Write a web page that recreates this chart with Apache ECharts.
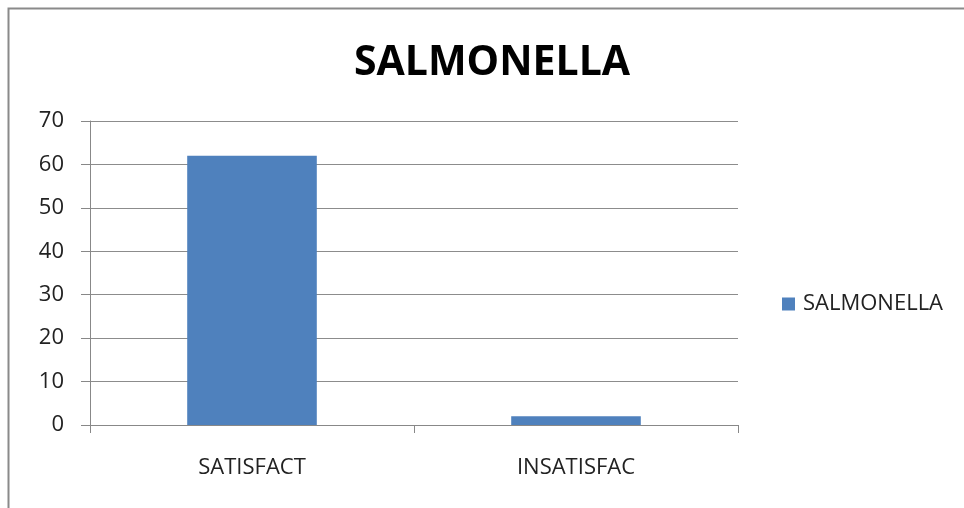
<!DOCTYPE html>
<html>
<head>
<meta charset="utf-8">
<script src="https://cdn.jsdelivr.net/npm/echarts@6/dist/echarts.min.js"></script>
<style>
  html, body { margin: 0; padding: 0; background: #fff; }
  #chart { width: 964px; height: 508px; }
</style>
</head>
<body>
<div id="chart"></div>
<script>
// 数据
var categories = ['SATISFACT', 'INSATISFAC'];
var seriesName = 'SALMONELLA';
var values = [62, 2];
var yTicks = [0, 10, 20, 30, 40, 50, 60, 70];

var myChart = echarts.init(document.getElementById('chart'));
var fontFam = '"Open Sans", "Liberation Sans", sans-serif';

var option = {
    animation: false,
    backgroundColor: '#fff',
    title: {
        text: 'SALMONELLA',
        left: 487,
        textAlign: 'center',
        top: 38,
        textStyle: { fontFamily: fontFam, fontSize: 41, fontWeight: 'bold', color: '#000' }
    },
    // 外框
    graphic: [{
        type: 'rect',
        shape: { x: 8.5, y: 8.5, width: 1000, height: 600 },
        style: { fill: null, stroke: '#8a8a8a', lineWidth: 2 },
        silent: true
    }],
    legend: {
        data: [seriesName],
        orient: 'vertical',
        left: 777,
        top: 288,
        icon: 'rect',
        itemWidth: 13,
        itemHeight: 13,
        itemGap: 6,
        textStyle: { fontFamily: fontFam, fontSize: 22, color: '#222', padding: [0, 0, 0, 3] }
    },
    grid: { left: 90, right: 226, top: 121, bottom: 83 },
    xAxis: {
        type: 'category',
        data: categories,
        axisLine: { show: true, lineStyle: { color: '#888' } },
        axisTick: { show: true, length: 8, lineStyle: { color: '#888' } },
        axisLabel: { margin: 32, fontFamily: fontFam, fontSize: 22, color: '#222' }
    },
    yAxis: {
        type: 'value',
        min: yTicks[0],
        max: yTicks[yTicks.length - 1],
        interval: 10,
        axisLine: { show: true, lineStyle: { color: '#888' } },
        axisTick: { show: true, length: 9, lineStyle: { color: '#888' } },
        axisLabel: { margin: 26, fontFamily: fontFam, fontSize: 22, color: '#222' },
        splitLine: { show: true, lineStyle: { color: '#8c8c8c' } }
    },
    series: [{
        name: seriesName,
        type: 'bar',
        data: values,
        barWidth: '40%',
        itemStyle: { color: '#4f81bd' }
    }]
};

myChart.setOption(option);
</script>
</body>
</html>
